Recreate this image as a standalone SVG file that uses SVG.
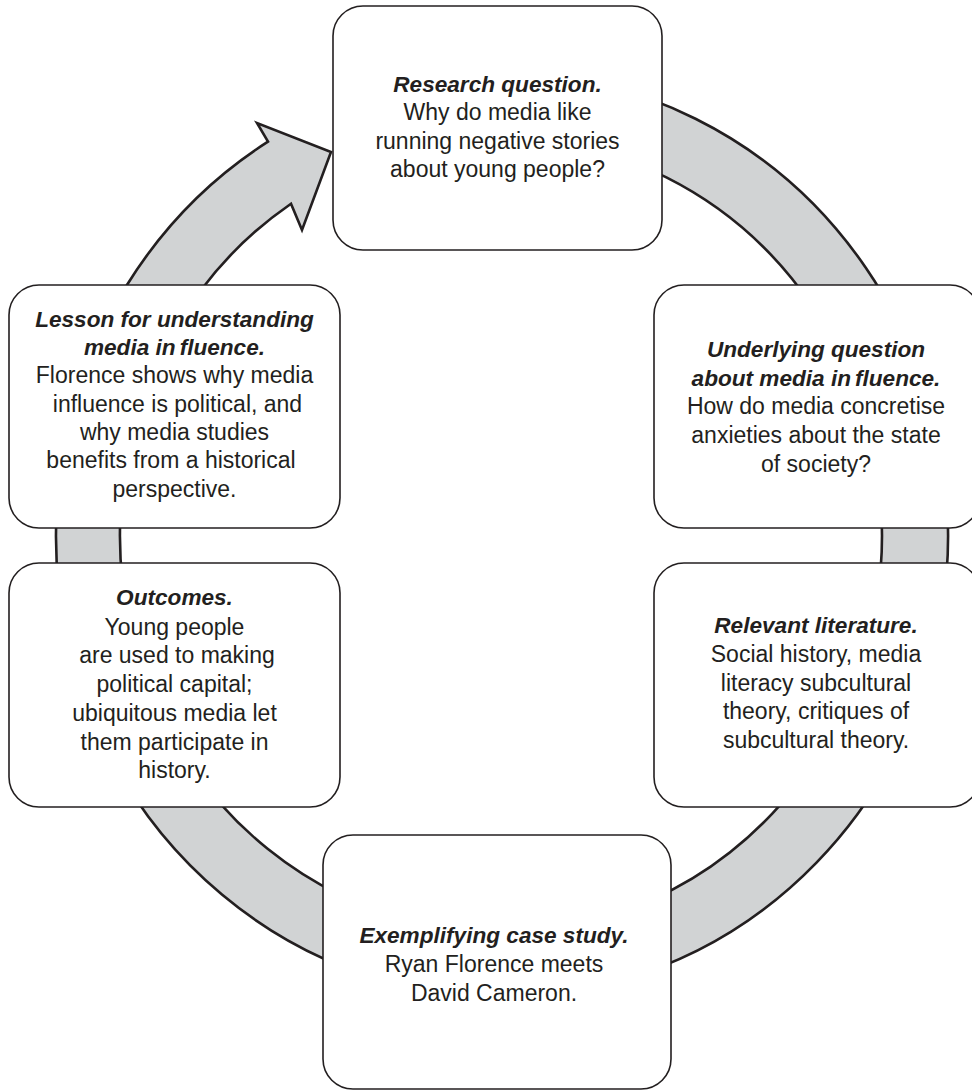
<svg xmlns="http://www.w3.org/2000/svg" width="972" height="1090" viewBox="0 0 972 1090">
<style>
.box{fill:#ffffff;stroke:#231f20;stroke-width:1.6}
.band{fill:#d1d3d4;stroke:#231f20;stroke-width:2.6;stroke-linejoin:miter}
text{font-family:"Liberation Sans",Arial,sans-serif;font-size:23px;fill:#231f20;text-anchor:middle}
.h{font-weight:bold;font-style:italic;font-size:22.6px}
</style>
<rect width="972" height="1090" fill="#ffffff"/>
<g id="connectors">
<path class="band" d="M 502 73 A 446 462 0 1 1 268 141.7 L 257 123 L 331 152 L 302 230 L 291 203.7 A 381 397 0 1 0 502 138 Z"/>
</g>
<g id="research">
<rect class="box" x="333" y="6" width="329" height="244" rx="30" ry="30"/>
<text x="497.5" y="92" class="h">Research question.</text>
<text x="497.5" y="120">Why do media like</text>
<text x="497.5" y="149">running negative stories</text>
<text x="497.5" y="177">about young people?</text>
</g>
<g id="underlying">
<rect class="box" x="654" y="285" width="326" height="243" rx="30" ry="30"/>
<text x="816" y="357" class="h">Underlying<tspan dx="6">question</tspan></text>
<text x="816" y="385.5" class="h">about media in<tspan dx="4">fluence.</tspan></text>
<text x="816" y="414">How do media concretise</text>
<text x="816" y="443">anxieties about the state</text>
<text x="816" y="471.5">of society?</text>
</g>
<g id="relevant">
<rect class="box" x="654" y="563" width="326" height="244" rx="30" ry="30"/>
<text x="816" y="633" class="h">Relevant literature.</text>
<text x="816" y="662">Social history, media</text>
<text x="816" y="691">literacy subcultural</text>
<text x="816" y="719">theory, critiques of</text>
<text x="816" y="748">subcultural theory.</text>
</g>
<g id="exemplifying">
<rect class="box" x="323" y="835" width="348" height="254" rx="30" ry="30"/>
<text x="494" y="943" class="h">Exemplifying case study.</text>
<text x="494" y="972">Ryan Florence meets</text>
<text x="494" y="1001">David Cameron.</text>
</g>
<g id="outcomes">
<rect class="box" x="9" y="563" width="331" height="244" rx="30" ry="30"/>
<text x="174.5" y="605" class="h">Outcomes.</text>
<text x="174.5" y="635">Young people</text>
<text x="177" y="663">are used to making</text>
<text x="174.5" y="692">political capital;</text>
<text x="174.5" y="721">ubiquitous media let</text>
<text x="174.5" y="750">them participate in</text>
<text x="174.5" y="778">history.</text>
</g>
<g id="lesson">
<rect class="box" x="9" y="285" width="331" height="243" rx="30" ry="30"/>
<text x="174.5" y="327" class="h">Lesson for understanding</text>
<text x="174.5" y="355" class="h">media in<tspan dx="4">fluence.</tspan></text>
<text x="174.5" y="383">Florence shows why media</text>
<text x="177.5" y="412">influence is political, and</text>
<text x="174.5" y="440">why media studies</text>
<text x="171" y="468">benefits from a historical</text>
<text x="174.5" y="497">perspective.</text>
</g>
</svg>
